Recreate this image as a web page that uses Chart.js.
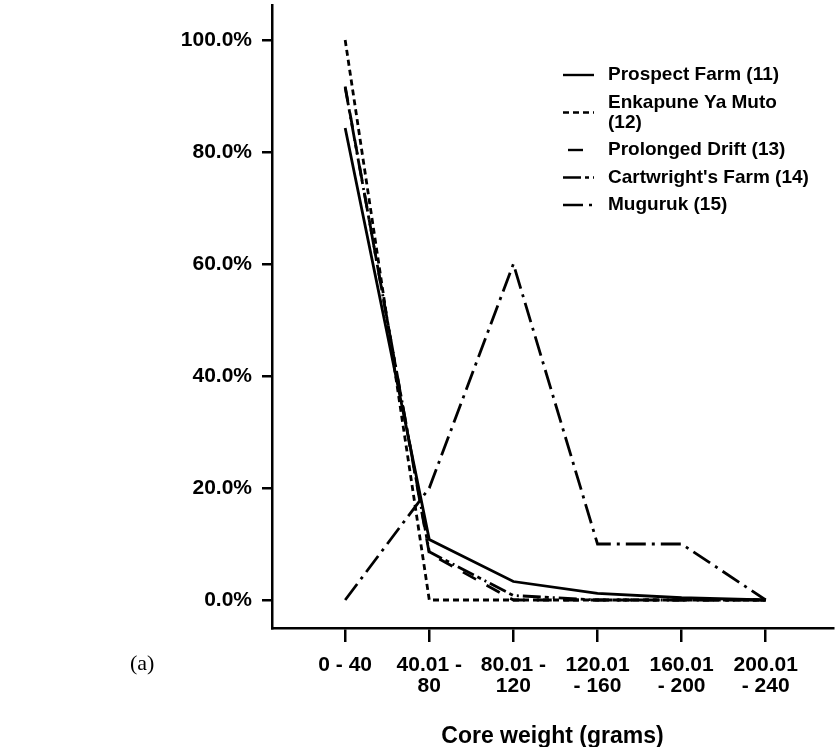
<!DOCTYPE html>
<html>
<head>
<meta charset="utf-8">
<script src="https://cdn.jsdelivr.net/npm/chart.js@4"></script>
<style>
  html, body { margin: 0; padding: 0; background: #fff; }
  canvas { display: block; }
</style>
</head>
<body>
<canvas id="c" width="836" height="747"></canvas>
<script>
// ---- data ----
const categories = ["0 - 40", "40.01 - 80", "80.01 - 120", "120.01 - 160", "160.01 - 200", "200.01 - 240"];
const categoryLines = [["0 - 40"], ["40.01 -", "80"], ["80.01 -", "120"], ["120.01", "- 160"], ["160.01", "- 200"], ["200.01", "- 240"]];
const seriesNames = ["Prospect Farm (11)", "Enkapune Ya Muto (12)", "Prolonged Drift (13)", "Cartwright's Farm (14)", "Muguruk (15)"];
const prospectFarm = [84.3, 10.8, 3.3, 1.2, 0.4, 0.0];
const enkapuneYaMuto = [100.0, 0.0, 0.0, 0.0, 0.0, 0.0];
const prolongedDrift = [91.7, 8.3, 0.0, 0.0, 0.0, 0.0];
const cartwrightsFarm = [91.5, 8.6, 0.8, 0.0, 0.0, 0.0];
const muguruk = [0.0, 20.0, 60.0, 10.0, 10.0, 0.0];
const yTicks = [0, 20, 40, 60, 80, 100];

const seriesValues = [prospectFarm, enkapuneYaMuto, prolongedDrift, cartwrightsFarm, muguruk];
const dashes = [[], [6, 4], [15, 12], [18, 4, 4, 4, 2, 4], [20, 6, 3, 6]];
const legendDashOffset = [0, 0, 22, 0, 0];
const legendLines = [["Prospect Farm (11)"], ["Enkapune Ya Muto", "(12)"], ["Prolonged Drift (13)"], ["Cartwright's Farm (14)"], ["Muguruk (15)"]];

const datasets = seriesNames.map((name, s) => ({
  label: name,
  data: seriesValues[s].map((v, i) => ({ x: i, y: v })),
  borderColor: '#000',
  borderWidth: 2.8,
  borderDash: dashes[s],
  pointRadius: 0,
  fill: false,
  tension: 0
}));

const FONT = '"Liberation Sans", Arial, Helvetica, sans-serif';

const legendPlugin = {
  id: 'customLegend',
  afterDraw(chart) {
    const ctx = chart.ctx;
    ctx.save();
    ctx.font = 'bold 19px ' + FONT;
    ctx.fillStyle = '#000';
    ctx.textBaseline = 'middle';
    ctx.textAlign = 'left';
    let y = 75;
    legendLines.forEach((lines, s) => {
      const lineH = 20;
      const sampleY = y + (lines.length - 1) * lineH / 2;
      ctx.strokeStyle = '#000';
      ctx.lineWidth = 2.4;
      ctx.setLineDash(dashes[s]);
      ctx.lineDashOffset = legendDashOffset[s];
      ctx.beginPath();
      ctx.moveTo(563, sampleY);
      ctx.lineTo(594, sampleY);
      ctx.stroke();
      ctx.setLineDash([]);
      ctx.lineDashOffset = 0;
      lines.forEach((t, k) => ctx.fillText(t, 608, y + k * lineH));
      y += (lines.length - 1) * lineH + 27.5;
    });
    // panel label
    ctx.font = '22px "Liberation Serif", "Times New Roman", serif';
    ctx.fillText('(a)', 130, 664);
    ctx.restore();
  }
};

new Chart(document.getElementById('c'), {
  type: 'line',
  data: { datasets },
  options: {
    responsive: false,
    animation: false,
    layout: { padding: { left: 0, right: 3, top: 5, bottom: 0 } },
    plugins: { legend: { display: false }, tooltip: { enabled: false } },
    scales: {
      x: {
        type: 'linear',
        min: -0.87,
        max: 5.8,
        afterBuildTicks(scale) { scale.ticks = categories.map((c, i) => ({ value: i })); },
        afterFit(scale) { scale.height = 119; scale.paddingLeft = 0; scale.paddingRight = 0; },
        border: { display: true, color: '#000', width: 2.5 },
        grid: { drawOnChartArea: false, drawTicks: true, tickLength: 14, color: '#000', lineWidth: 2.5 },
        ticks: {
          autoSkip: false,
          maxRotation: 0,
          padding: 13,
          color: '#000',
          font: { family: FONT, size: 21, weight: 'bold', lineHeight: 1.0 },
          callback: (v) => categoryLines[v]
        },
        title: {
          display: true,
          text: 'Core weight (grams)',
          color: '#000',
          font: { family: FONT, size: 23, weight: 'bold' },
          padding: { top: 21, bottom: -3 }
        }
      },
      y: {
        type: 'linear',
        min: -5,
        max: 106.25,
        afterBuildTicks(scale) { scale.ticks = yTicks.map(v => ({ value: v })); },
        afterFit(scale) { scale.width = 272; scale.paddingTop = 0; scale.paddingBottom = 0; },
        border: { display: true, color: '#000', width: 2.5 },
        grid: { drawOnChartArea: false, drawTicks: true, tickLength: 10, color: '#000', lineWidth: 2.5 },
        ticks: {
          padding: 10,
          color: '#000',
          font: { family: FONT, size: 21, weight: 'bold' },
          callback: (v) => v.toFixed(1) + '%'
        }
      }
    }
  },
  plugins: [legendPlugin]
});
</script>
</body>
</html>
